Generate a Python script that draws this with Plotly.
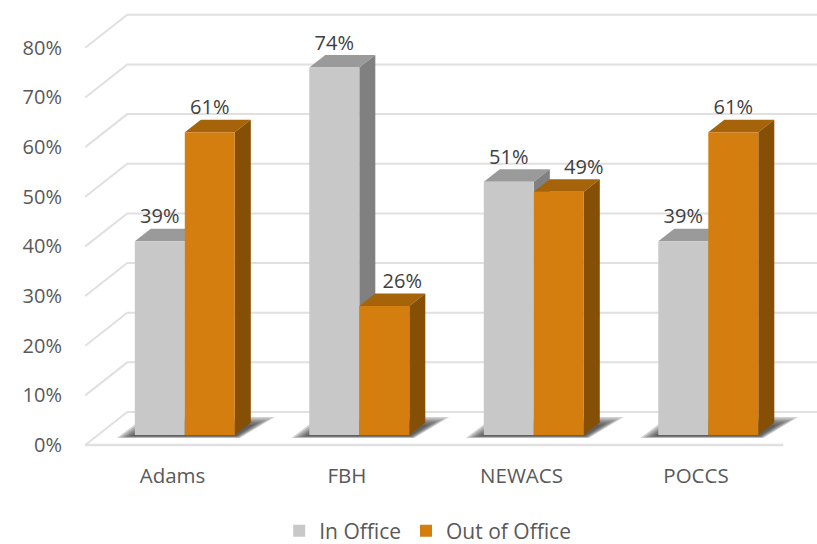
import plotly.graph_objects as go

categories = ["Adams", "FBH", "NEWACS", "POCCS"]
in_office = [39, 74, 51, 39]
out_of_office = [61, 26, 49, 61]
y_ticks = [0, 10, 20, 30, 40, 50, 60, 70, 80]

W, H = 817, 544
PX_X = 174.5          # pixels per category
PX_Y = 4.965          # pixels per percent
X0_PX, Y0_PX = 172.5, 445
xr = [-X0_PX / PX_X, (W - X0_PX) / PX_X]
yr = [-(H - Y0_PX) / PX_Y, Y0_PX / PX_Y]

def dx(p): return p / PX_X
def dy(p): return p / PX_Y

GRID = "#E0E0E0"
FLOOR_LEFT = -0.5
FLOOR_RIGHT = 3.5
WALL_DX, WALL_DY = dx(42), dy(33)
BAR_W = dx(50)
BAR_DX, BAR_DY = dx(16), dy(12.5)
INSET_X, INSET_Y = dx(12.3), dy(10)

def path(points):
    return "M" + " L".join(f"{x:.5f},{y:.4f}" for x, y in points) + " Z"

def line_path(points):
    return "M" + " L".join(f"{x:.5f},{y:.4f}" for x, y in points)

shapes = []
for v in y_ticks:
    pts = [(FLOOR_LEFT, v), (FLOOR_LEFT + WALL_DX, v + WALL_DY), (xr[1] + 0.1, v + WALL_DY)]
    shapes.append(dict(type="path", xref="x", yref="y", path=line_path(pts), layer="below",
                       line=dict(color=GRID, width=2)))
shapes.append(dict(type="path", xref="x", yref="y",
                   path=line_path([(FLOOR_LEFT, 0), (FLOOR_RIGHT, 0)]), layer="below",
                   line=dict(color=GRID, width=2.5)))

for i in range(len(categories)):
    left = i + INSET_X - BAR_W
    right = i + INSET_X + BAR_W
    for g in (1.0, 0.8, 0.6, 0.4, 0.2, 0.0):
        pts = [
            (left - dx(3 + 15 * g), INSET_Y - dy(1 + 2 * g)),
            (right + dx(1 + 4 * g), INSET_Y - dy(1 + 2 * g)),
            (right + dx(18 + 22 * g), INSET_Y + dy(10 + 8 * g)),
            (left + dx(16 - 6 * g), INSET_Y + dy(10 + 8 * g)),
        ]
        shapes.append(dict(type="path", xref="x", yref="y", path=path(pts), layer="below",
                           fillcolor="rgba(50,50,50,0.22)", line=dict(width=0)))

def faces(values, shift, top_col, side_col):
    for i, v in enumerate(values):
        xl = i + INSET_X + shift
        xr_ = xl + BAR_W
        y0 = INSET_Y
        y1 = INSET_Y + v
        shapes.append(dict(type="path", xref="x", yref="y", layer="below",
                           path=path([(xl, y1), (xr_, y1), (xr_ + BAR_DX, y1 + BAR_DY), (xl + BAR_DX, y1 + BAR_DY)]),
                           fillcolor=top_col, line=dict(width=0)))
        shapes.append(dict(type="path", xref="x", yref="y", layer="below",
                           path=path([(xr_, y0), (xr_ + BAR_DX, y0 + BAR_DY), (xr_ + BAR_DX, y1 + BAR_DY), (xr_, y1)]),
                           fillcolor=side_col, line=dict(width=0)))

faces(in_office, -BAR_W, "#9A9A9A", "#808080")
faces(out_of_office, 0, "#A5630A", "#855006")

x_pos = [i + INSET_X for i in range(len(categories))]

fig = go.Figure()
fig.add_bar(name="In Office", x=x_pos, y=in_office, base=INSET_Y, width=BAR_W, offset=-BAR_W,
            marker=dict(color="#C8C8C8", line=dict(width=0)))
fig.add_bar(name="Out of Office", x=x_pos, y=out_of_office, base=INSET_Y, width=BAR_W, offset=0,
            marker=dict(color="#D37E0F", line=dict(width=0)))

LABEL_LIFT = dy(23)
label_nudge_in = [0, 0, 0, 0]
label_nudge_out = [0, dx(18), dx(25), 0]
fig.add_scatter(x=[p - BAR_W / 2 + n for p, n in zip(x_pos, label_nudge_in)],
                y=[INSET_Y + v + LABEL_LIFT for v in in_office],
                mode="text", text=[f"{v}%" for v in in_office], showlegend=False, hoverinfo="skip",
                textfont=dict(family="Open Sans", size=20, color="#404040"))
fig.add_scatter(x=[p + BAR_W / 2 + n for p, n in zip(x_pos, label_nudge_out)],
                y=[INSET_Y + v + LABEL_LIFT for v in out_of_office],
                mode="text", text=[f"{v}%" for v in out_of_office], showlegend=False, hoverinfo="skip",
                textfont=dict(family="Open Sans", size=20, color="#404040"))

fig.update_layout(
    width=W, height=H, autosize=False,
    margin=dict(l=0, r=0, t=0, b=0, autoexpand=False),
    paper_bgcolor="white", plot_bgcolor="white",
    barmode="overlay", shapes=shapes,
    font=dict(family="Open Sans", size=20, color="#595959"),
    xaxis=dict(range=xr, domain=[0, 1], anchor="free", position=(H - Y0_PX) / H,
               tickmode="array", tickvals=list(range(len(categories))), ticktext=categories,
               showgrid=False, zeroline=False, showline=False, ticks="", ticklabelstandoff=16,
               fixedrange=True, tickfont=dict(size=20.5, color="#595959")),
    yaxis=dict(range=yr, domain=[0, 1], anchor="free", position=85 / W,
               tickmode="array", tickvals=y_ticks, ticktext=[f"{v}%" for v in y_ticks],
               showgrid=False, zeroline=False, showline=False, ticks="", ticklabelstandoff=23,
               fixedrange=True, tickfont=dict(size=20, color="#595959")),
    legend=dict(orientation="h", x=0.5235, xanchor="center", y=(H - 531) / H, yanchor="middle",
                bgcolor="rgba(0,0,0,0)", font=dict(size=21, color="#595959"),
                itemclick=False, itemdoubleclick=False),
    showlegend=True,
)
fig.write_html("out.html", config={"displayModeBar": False},
               post_script="document.body.style.margin='0';")
